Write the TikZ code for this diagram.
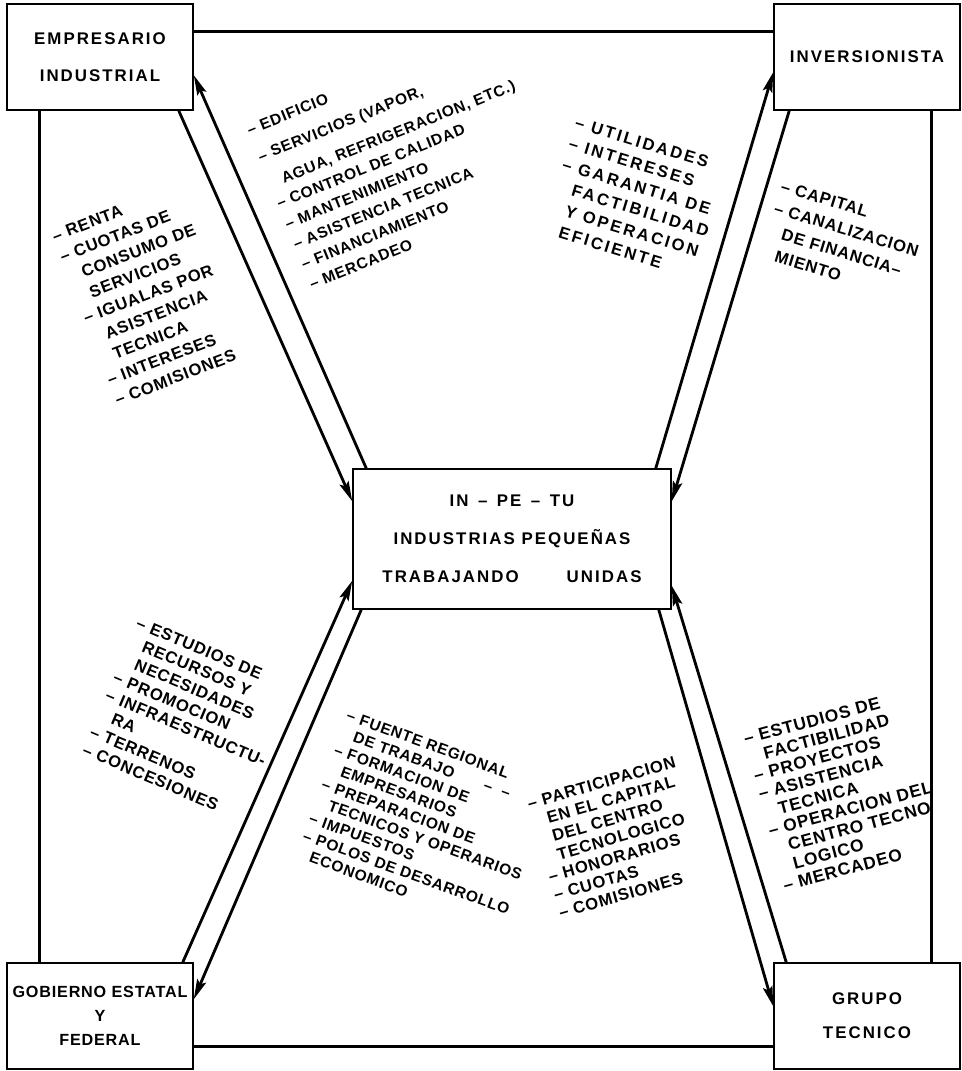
\documentclass[tikz,border=0pt]{standalone}
\usepackage{fontspec}
\usepackage{tikz}
\usetikzlibrary{arrows.meta}
\setmainfont{Liberation Sans}
\newfontfamily\letrero{Liberation Sans}[LetterSpace=12]
\newfontfamily\rotulo{Liberation Sans}[LetterSpace=5]
\newfontfamily\rotuloancho{Liberation Sans}[LetterSpace=15]
\newcommand{\guion}{\llap{–\ }}

\begin{document}
\begin{tikzpicture}[x=0.25mm,y=-0.25mm,
    caja/.style={draw,line width=1.1pt,align=center,inner sep=0pt,font=\letrero\bfseries\fontsize{12}{#1}\selectfont},
    esquina/.style={caja=#1,minimum width=46.5mm,minimum height=26.5mm},
    lista/.style={align=left,inner sep=0pt,anchor=north west,font=\rotulo\bfseries\fontsize{11.8}{#1}\selectfont},
    marco/.style={line width=2.1pt},
    flecha/.style={line width=2pt,-{Stealth[length=5mm,width=2.4mm,inset=0.9mm]}}]
    \useasboundingbox (0,0) rectangle (961,1071);

    % Participantes
    \node[esquina=26pt] (emp) at (100,57) {EMPRESARIO\\INDUSTRIAL};
    \node[esquina=26pt] (inv) at (867,57) {INVERSIONISTA};
    \node[esquina=17pt,font=\rotulo\bfseries\fontsize{11.5}{17}\selectfont] (gob) at (100,1016) {GOBIERNO ESTATAL\\Y\\FEDERAL};
    \node[esquina=24pt] (gru) at (867,1016) {GRUPO\\TECNICO};

    % IN-PE-TU
    \node[caja=27pt,minimum width=79.5mm,minimum height=35mm] (inpetu) at (512,539) {IN \,–\, PE \,–\, TU\\INDUSTRIAS PEQUEÑAS\\TRABAJANDO\hspace{12mm}UNIDAS};

    % Marco
    \draw[marco] ([yshift=-7mm]emp.north east) -- ([yshift=-7mm]inv.north west);
    \draw[marco] ([xshift=8.25mm]emp.south west) -- ([xshift=8.25mm]gob.north west);
    \draw[marco] ([yshift=5.75mm]gob.south east) -- ([yshift=5.75mm]gru.south west);
    \draw[marco] ([xshift=-7.25mm]inv.south east) -- ([xshift=-7.25mm]gru.north east);

    % Flechas
    \draw[flecha] ([xshift=-3.75mm]emp.south east) -- ([yshift=-8.25mm]inpetu.north west);
    \draw[flecha] ([xshift=3.5mm]inpetu.north west) -- ([yshift=-18mm]emp.north east);
    \draw[flecha] ([xshift=-4mm]inpetu.north east) -- ([yshift=-17.25mm]inv.north west);
    \draw[flecha] ([xshift=4mm]inv.south west) -- ([yshift=-8.25mm]inpetu.north east);
    \draw[flecha] ([xshift=-2.75mm]gob.north east) -- ([yshift=7.25mm]inpetu.south west);
    \draw[flecha] ([xshift=2.25mm]inpetu.south west) -- ([yshift=-9.25mm]gob.north east);
    \draw[flecha] ([xshift=3.25mm]gru.north west) -- ([yshift=6mm]inpetu.south east);
    \draw[flecha] ([xshift=-3.25mm]inpetu.south east) -- ([yshift=-11mm]gru.north west);

    % Empresario
    \node[lista=15.6pt,rotate=21] (renta) at (64,226) {\guion RENTA\\\guion CUOTAS DE\\CONSUMO DE\\SERVICIOS\\\guion IGUALAS POR\\ASISTENCIA\\TECNICA\\\guion INTERESES\\\guion COMISIONES};
    \node[lista=15.5pt,rotate=22,font=\rotulo\bfseries\fontsize{11}{15.5}\selectfont] (edificio) at (258,120) {\guion EDIFICIO\\[5pt]\guion SERVICIOS (VAPOR,\\[5pt]AGUA, REFRIGERACION, ETC.)\\\guion CONTROL DE CALIDAD\\\guion MANTENIMIENTO\\\guion ASISTENCIA TECNICA\\\guion FINANCIAMIENTO\\\guion MERCADEO};

    % Inversionista
    \node[lista=15.6pt,rotate=-17,font=\rotuloancho\bfseries\fontsize{11.8}{15.6}\selectfont] (utilidades) at (593,121) {\guion UTILIDADES\\\guion INTERESES\\\guion GARANTIA DE\\FACTIBILIDAD\\Y OPERACION\\EFICIENTE};
    \node[lista=16.4pt,rotate=-17] (capital) at (797,184) {\guion CAPITAL\\\guion CANALIZACION\\DE FINANCIA–\\MIENTO};

    % Gobierno
    \node[lista=14pt,rotate=-23] (recursos) at (153,622) {\guion ESTUDIOS DE\\RECURSOS Y\\NECESIDADES\\\guion PROMOCION\\\guion INFRAESTRUCTU-\\RA\\\guion TERRENOS\\\guion CONCESIONES};
    \node[lista=13pt,rotate=-20,font=\rotulo\bfseries\fontsize{11}{13}\selectfont] (fuente) at (362,714) {\guion FUENTE REGIONAL\\DE TRABAJO\rlap{\hspace{8mm}–\hspace{2.5mm}–}\\\guion FORMACION DE\\EMPRESARIOS\\\guion PREPARACION DE\\TECNICOS Y OPERARIOS\\\guion IMPUESTOS\\\guion POLOS DE DESARROLLO\\ECONOMICO};

    % Grupo tecnico
    \node[lista=13.5pt,rotate=16] (participacion) at (540,794) {\guion PARTICIPACION\\EN EL CAPITAL\\DEL CENTRO\\TECNOLOGICO\\\guion HONORARIOS\\\guion CUOTAS\\\guion COMISIONES};
    \node[lista=13.5pt,rotate=15,font=\rotulo\bfseries\fontsize{12.3}{13.5}\selectfont] (factibilidad) at (757,729) {\guion ESTUDIOS DE\\FACTIBILIDAD\\\guion PROYECTOS\\\guion ASISTENCIA\\TECNICA\\\guion OPERACION DEL\\CENTRO TECNO\\LOGICO\\\guion MERCADEO};
\end{tikzpicture}
\end{document}
